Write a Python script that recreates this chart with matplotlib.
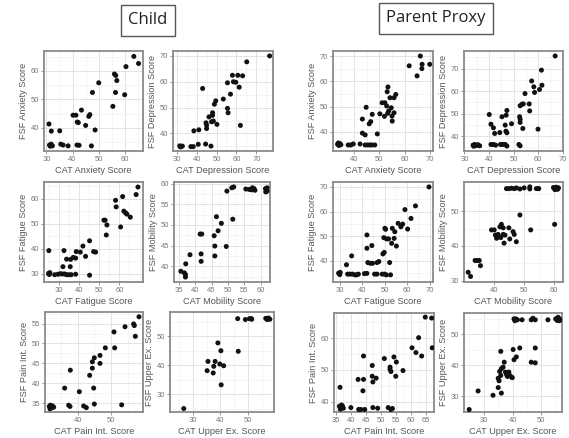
import matplotlib
matplotlib.use("Agg")
import matplotlib.pyplot as plt
from matplotlib.ticker import AutoMinorLocator

plt.rcParams['font.family'] = ['Liberation Sans', 'DejaVu Sans']

# ---------------- data ----------------
# Child
child_anx_x = [31.0, 31.9, 31.5, 32.0, 31.8, 32.3, 31.2, 35.1, 35.5, 36.4, 38.3, 40.2, 41.3, 41.8, 42.2,
               41.7, 42.5, 43.4, 45.0, 46.2, 46.6, 47.2, 47.6, 48.6, 50.0, 55.4, 56.0, 56.5, 56.4, 56.9,
               59.9, 60.4, 63.4, 65.2]
child_anx_y = [41.3, 38.8, 33.5, 33.8, 34.2, 33.6, 33.9, 38.9, 34.2, 33.9, 33.6, 44.4, 44.4, 42.0, 41.8,
               33.9, 33.8, 46.2, 40.8, 44.0, 44.6, 33.6, 52.4, 39.2, 55.8, 47.5, 58.9, 58.4, 52.4, 56.6,
               51.6, 61.5, 65.1, 62.6]

child_dep_x = [31.5, 32.2, 32.8, 31.8, 37.1, 38.3, 40.8, 38.6, 41.1, 43.0, 44.7, 45.0, 45.0, 44.5, 47.2,
               46.2, 47.5, 48.4, 48.0, 48.0, 48.9, 49.6, 50.2, 53.4, 55.5, 55.8, 55.5, 57.0, 58.0, 58.5,
               59.7, 60.7, 61.4, 62.0, 63.1, 65.2, 76.7]
child_dep_y = [35.2, 34.9, 35.1, 34.8, 34.9, 34.9, 35.8, 41.0, 41.4, 57.4, 44.1, 43.2, 41.9, 35.9, 35.1,
               46.4, 44.5, 44.8, 48.0, 47.0, 51.3, 52.6, 43.5, 53.3, 49.7, 48.0, 59.6, 55.2, 62.5, 60.0,
               59.8, 62.5, 57.9, 43.1, 62.3, 67.7, 70.0]

child_fat_x = [25.0, 25.0, 25.3, 24.9, 25.5, 27.9, 29.5, 30.7, 31.7, 32.8, 33.8, 35.0, 36.1, 38.3, 32.0,
               32.5, 33.8, 35.6, 35.8, 37.1, 38.3, 38.6, 40.6, 41.9, 43.2, 45.2, 45.2, 47.2, 48.2, 52.3,
               52.9, 53.8, 53.5, 58.1, 58.4, 60.6, 61.6, 62.2, 63.1, 63.7, 65.4, 68.3, 69.2]
child_fat_y = [39.3, 30.3, 29.8, 30.0, 30.5, 29.7, 29.9, 30.1, 30.0, 30.0, 29.7, 29.7, 29.7, 29.9, 32.9,
               39.3, 35.9, 32.9, 35.8, 36.6, 36.3, 38.9, 38.7, 41.1, 37.0, 43.2, 29.5, 38.9, 38.7, 51.4,
               51.4, 49.5, 45.5, 59.3, 56.7, 48.7, 60.8, 55.0, 54.3, 53.8, 52.6, 61.6, 64.6]

child_mob_x = [35.6, 36.7, 37.0, 37.0, 37.1, 38.4, 41.5, 42.0, 41.8, 41.8, 45.8, 46.0, 46.0, 46.5, 47.0,
               48.0, 49.5, 49.7, 51.5, 51.2, 51.8, 55.5, 56.5, 57.3, 57.5, 58.0, 58.3, 61.5, 61.8, 62.0,
               62.0, 61.6]
child_mob_y = [38.8, 38.4, 38.0, 37.4, 40.6, 42.8, 47.8, 47.8, 43.0, 41.2, 47.4, 44.9, 42.5, 52.0, 48.6,
               50.4, 44.8, 58.2, 51.4, 59.0, 59.2, 58.7, 58.6, 58.5, 59.0, 58.8, 58.4, 58.8, 58.5, 59.0,
               58.2, 58.0]

child_pain_x = [31.5, 32.0, 32.5, 31.8, 32.8, 31.7, 36.1, 37.3, 37.7, 37.8, 40.5, 41.8, 42.6, 43.6, 44.4,
                44.4, 45.0, 44.8, 45.0, 46.7, 46.7, 48.3, 50.9, 51.1, 53.2, 54.2, 56.8, 57.0, 57.3, 58.4]
child_pain_y = [34.2, 33.8, 34.3, 34.5, 34.0, 33.6, 38.8, 34.5, 34.2, 43.3, 37.9, 34.3, 33.9, 42.0, 43.8,
                45.4, 46.4, 38.8, 34.8, 47.0, 45.0, 48.9, 52.9, 48.9, 34.6, 54.2, 54.9, 54.5, 51.8, 56.7]

child_upp_x = [26.7, 35.2, 35.5, 37.4, 37.6, 38.1, 39.1, 39.8, 40.2, 40.3, 41.2, 46.3, 46.5, 49.1, 50.6,
               51.2, 51.4, 56.5, 57.0, 57.5, 58.0, 57.2]
child_upp_y = [25.0, 38.1, 41.3, 37.3, 39.6, 41.3, 47.7, 40.4, 45.0, 33.2, 39.8, 56.1, 44.8, 55.8, 56.1,
               56.1, 55.9, 56.2, 55.8, 56.3, 55.9, 56.0]

# Parent proxy
par_anx_x = [33.5, 34.0, 34.5, 33.8, 34.8, 37.7, 38.7, 39.7, 42.4, 43.3, 44.4, 43.3, 44.8, 44.4, 45.4,
             46.3, 47.1, 48.2, 46.0, 46.6, 47.2, 49.2, 50.2, 51.1, 52.2, 52.0, 52.9, 53.3, 53.7, 53.4,
             53.1, 54.2, 54.7, 55.0, 55.1, 55.8, 56.5, 55.8, 61.8, 64.9, 66.2, 66.8, 66.9, 69.9]
par_anx_y = [35.0, 34.5, 35.2, 35.5, 34.8, 34.7, 34.7, 35.1, 35.1, 39.4, 38.7, 45.0, 49.7, 34.7, 34.7,
             34.7, 34.7, 34.7, 43.1, 44.0, 46.9, 39.1, 47.1, 51.5, 51.5, 46.1, 50.2, 47.3, 48.2, 57.8,
             55.9, 53.5, 49.5, 46.2, 44.2, 53.5, 54.8, 47.5, 66.2, 62.2, 70.1, 65.1, 66.8, 66.8]

par_dep_x = [33.5, 34.2, 34.8, 35.5, 36.2, 33.8, 40.1, 40.8, 41.8, 42.3, 40.8, 41.8, 42.7, 44.4, 44.7,
             45.6, 46.6, 45.3, 46.6, 46.9, 47.3, 47.0, 47.3, 47.3, 49.2, 52.2, 52.7, 52.5, 52.7, 52.7,
             52.7, 53.5, 54.0, 53.8, 54.7, 56.4, 56.6, 57.4, 58.3, 58.6, 60.0, 60.6, 61.6, 61.4, 67.0]
par_dep_y = [36.0, 36.3, 35.8, 36.2, 35.7, 35.5, 49.6, 45.3, 43.7, 41.2, 36.3, 36.3, 36.0, 41.6, 36.3,
             36.3, 36.3, 48.6, 44.9, 42.2, 41.5, 49.3, 51.4, 35.6, 45.5, 36.3, 35.7, 48.6, 47.5, 46.1,
             53.5, 54.2, 54.3, 43.4, 58.9, 54.3, 51.2, 64.5, 61.9, 59.4, 43.1, 60.7, 62.6, 69.3, 75.6]

par_fat_x = [29.5, 30.0, 30.2, 29.8, 33.0, 33.5, 34.5, 35.6, 36.8, 35.3, 37.5, 38.3, 41.0, 42.1, 42.1,
             42.1, 42.5, 43.6, 44.6, 44.3, 45.5, 46.6, 46.6, 47.4, 48.9, 49.9, 50.8, 49.2, 49.8, 49.6,
             50.1, 50.4, 50.8, 51.7, 52.2, 52.6, 53.1, 53.4, 54.5, 54.2, 55.2, 56.0, 57.2, 58.0, 59.0,
             60.2, 61.7, 63.7, 69.7]
par_fat_y = [35.0, 34.4, 35.3, 34.8, 38.4, 34.6, 34.6, 34.6, 34.3, 42.0, 34.3, 34.6, 34.8, 34.9, 50.5,
             45.1, 39.3, 39.0, 39.0, 46.2, 34.6, 34.6, 39.3, 39.7, 34.6, 34.6, 34.3, 42.8, 43.4, 49.4,
             53.2, 52.8, 48.9, 48.9, 39.3, 34.3, 47.1, 53.2, 51.8, 49.1, 46.0, 55.2, 53.8, 54.9, 60.8,
             52.9, 57.2, 62.3, 70.0]

par_mob_x = [31.3, 32.1, 33.6, 34.3, 35.0, 35.4, 39.1, 40.0, 40.4, 40.8, 41.3, 41.9, 42.4, 43.0, 42.2,
             43.0, 43.6, 43.3, 44.9, 45.2, 46.3, 46.7, 47.4, 48.6, 52.2, 60.2, 44.1, 44.9, 45.8, 46.7,
             47.4, 48.6, 50.0, 51.9, 51.9, 54.1, 54.7, 54.9, 59.8, 60.3, 60.8, 61.2, 60.5, 61.5]
par_mob_y = [32.4, 31.2, 35.8, 35.8, 35.8, 34.3, 44.6, 44.6, 43.1, 42.2, 43.3, 45.5, 46.2, 45.2, 42.4,
             43.3, 43.1, 40.8, 45.2, 42.0, 44.1, 43.3, 41.2, 48.9, 44.6, 46.2, 56.5, 56.5, 56.6, 56.5,
             56.7, 56.4, 56.7, 56.4, 57.0, 56.5, 56.5, 56.5, 56.8, 56.2, 56.9, 56.3, 56.5, 56.7]

par_pain_x = [36.4, 36.2, 36.8, 37.2, 36.5, 37.5, 36.9, 40.0, 42.4, 42.6, 43.3, 44.2, 44.0, 44.2, 44.6,
              47.1, 47.1, 47.3, 48.4, 47.3, 48.9, 51.1, 53.0, 53.0, 53.3, 52.4, 53.3, 53.8, 54.3, 55.1,
              54.9, 57.3, 60.3, 61.6, 62.5, 63.5, 64.7, 66.8, 67.0]
par_pain_y = [44.5, 38.5, 38.0, 38.6, 37.6, 37.9, 38.9, 38.1, 47.0, 37.5, 37.5, 47.0, 43.4, 54.4, 37.5,
              51.4, 48.0, 46.2, 47.4, 38.1, 37.9, 53.6, 50.9, 50.2, 49.5, 38.1, 37.5, 37.8, 54.1, 52.5,
              48.0, 49.8, 57.0, 55.5, 60.2, 54.4, 66.7, 66.4, 57.0]

par_upp_x = [24.9, 28.0, 33.2, 35.0, 35.3, 35.0, 35.9, 35.5, 36.1, 35.9, 36.1, 36.7, 37.1, 37.5, 37.9,
             38.2, 38.7, 39.0, 39.6, 39.9, 40.2, 40.5, 41.3, 40.5, 40.8, 41.1, 41.7, 42.5, 43.3, 46.5,
             47.1, 47.9, 46.5, 47.9, 47.9, 52.3, 55.0, 55.5, 56.0, 56.5, 55.8, 56.3]
par_upp_y = [25.7, 31.7, 30.3, 32.8, 35.0, 35.8, 36.7, 38.0, 38.9, 44.5, 31.0, 39.4, 41.0, 37.8, 37.0,
             36.4, 37.8, 36.7, 36.2, 36.0, 45.1, 41.8, 42.7, 55.0, 54.4, 55.0, 54.7, 45.6, 54.7, 54.7,
             55.2, 54.7, 41.0, 40.8, 45.6, 54.7, 55.0, 54.5, 55.3, 54.8, 55.5, 54.4]

# tick labels
anx_child_xticks = [30, 40, 50, 60]; anx_child_yticks = [40, 50, 60]
dep_child_xticks = [30, 40, 50, 60, 70]; dep_child_yticks = [40, 50, 60, 70]
fat_child_xticks = [30, 40, 50, 60]; fat_child_yticks = [30, 40, 50, 60]
mob_child_xticks = [35, 40, 45, 50, 55, 60]; mob_child_yticks = [40, 45, 50, 55, 60]
pain_child_xticks = [40, 50]; pain_child_yticks = [35, 40, 45, 50, 55]
upp_child_xticks = [30, 40, 50]; upp_child_yticks = [30, 40, 50]
anx_par_xticks = [40, 50, 60, 70]; anx_par_yticks = [40, 50, 60, 70]
dep_par_xticks = [30, 40, 50, 60, 70]; dep_par_yticks = [40, 50, 60, 70]
fat_par_xticks = [30, 40, 50, 60, 70]; fat_par_yticks = [40, 50, 60, 70]
mob_par_xticks = [40, 50, 60]; mob_par_yticks = [30, 40, 50]
pain_par_xticks = [35, 40, 45, 50, 55, 60, 65]; pain_par_yticks = [40, 50, 60]
upp_par_xticks = [30, 40, 50]; upp_par_yticks = [30, 40, 50]

domains = ["Anxiety", "Depression", "Fatigue", "Mobility", "Pain Int.", "Upper Ex."]

# ---------------- layout ----------------
W, H = 569, 438
fig = plt.figure(figsize=(W / 100, H / 100), dpi=100)
fig.patch.set_facecolor("white")

def add_ax(l, t, r, b):
    return fig.add_axes([l / W, 1 - b / H, (r - l) / W, (b - t) / H])

panels = [
    # (x, y, xlim, ylim, xticks, yticks, domain, box px)
    (child_anx_x, child_anx_y, (29.1, 66.9), (31.8, 67.0), anx_child_xticks, anx_child_yticks, 0, (44, 51, 143, 151)),
    (child_dep_x, child_dep_y, (28.1, 78.4), (33.2, 71.9), dep_child_xticks, dep_child_yticks, 1, (173, 51, 273, 151)),
    (child_fat_x, child_fat_y, (22.6, 71.7), (26.8, 66.6), fat_child_xticks, fat_child_yticks, 2, (44, 182, 143, 282)),
    (child_mob_x, child_mob_y, (33.5, 62.9), (36.2, 60.4), mob_child_xticks, mob_child_yticks, 3, (174, 182, 270, 282)),
    (child_pain_x, child_pain_y, (30.2, 59.6), (32.8, 57.9), pain_child_xticks, pain_child_yticks, 4, (45, 312, 143, 412)),
    (child_upp_x, child_upp_y, (21.7, 59.5), (23.8, 58.4), upp_child_xticks, upp_child_yticks, 5, (170, 312, 274, 412)),
    (par_anx_x, par_anx_y, (31.7, 71.2), (32.3, 72.1), anx_par_xticks, anx_par_yticks, 0, (333, 51, 433, 151)),
    (par_dep_x, par_dep_y, (29.8, 70.2), (33.4, 77.8), dep_par_xticks, dep_par_yticks, 1, (464, 51, 563, 151)),
    (par_fat_x, par_fat_y, (27.0, 71.5), (31.4, 72.0), fat_par_xticks, fat_par_yticks, 2, (333, 182, 433, 282)),
    (par_mob_x, par_mob_y, (29.9, 63.0), (29.6, 58.4), mob_par_xticks, mob_par_yticks, 3, (464, 182, 563, 282)),
    (par_pain_x, par_pain_y, (34.4, 67.6), (36.7, 68.0), pain_par_xticks, pain_par_yticks, 4, (334, 313, 434, 412)),
    (par_upp_x, par_upp_y, (23.1, 57.2), (24.9, 56.9), upp_par_xticks, upp_par_yticks, 5, (464, 313, 562, 412)),
]

for x, y, xl, yl, xt, yt, d, box in panels:
    ax = add_ax(*box)
    ax.set_facecolor("white")
    ax.set_xlim(*xl)
    ax.set_ylim(*yl)
    ax.set_xticks(xt)
    ax.set_yticks(yt)
    ax.xaxis.set_minor_locator(AutoMinorLocator(2))
    ax.yaxis.set_minor_locator(AutoMinorLocator(2))
    ax.grid(True, which="major", color="#e3e3e3", lw=0.7)
    ax.grid(True, which="minor", color="#f1f1f1", lw=0.5)
    ax.set_axisbelow(True)
    ax.tick_params(which="major", length=2, width=0.6, color="#888888",
                   labelsize=5.5, labelcolor="#777777", pad=1.5)
    ax.tick_params(which="minor", length=0)
    for s in ax.spines.values():
        s.set_color("#8a8a8a")
        s.set_linewidth(1.3)
    ax.scatter(x, y, s=13, color="#111111", edgecolors="none", zorder=3)
    ax.set_xlabel("CAT %s Score" % domains[d], fontsize=6.6, color="#555555", labelpad=2)
    ax.set_ylabel("FSF %s Score" % domains[d], fontsize=6.6, color="#555555", labelpad=2)

box_style = dict(boxstyle="square,pad=0.45", fc="white", ec="#555555", lw=1.0)
fig.text(148 / W, 1 - 20 / H, "Child", ha="center", va="center", fontsize=12,
         family=["Open Sans", "DejaVu Sans"], color="#222222", bbox=box_style)
fig.text(436 / W, 1 - 18 / H, "Parent Proxy", ha="center", va="center", fontsize=12,
         family=["Open Sans", "DejaVu Sans"], color="#222222", bbox=box_style)

fig.savefig("out.png", dpi=100, facecolor="white")
